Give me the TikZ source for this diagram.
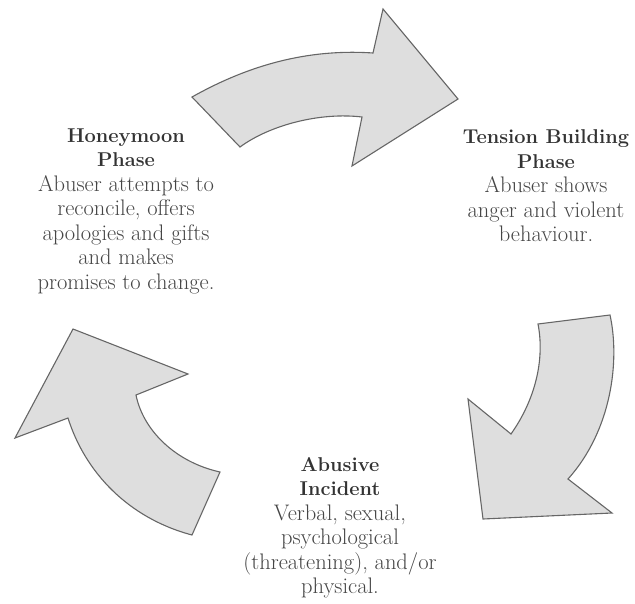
\documentclass[tikz,border=0pt]{standalone}
\usepackage{xcolor}
\usepackage{tikz}
\usetikzlibrary{positioning}

\definecolor{arrowfill}{HTML}{DEDEDE}
\definecolor{arrowline}{HTML}{666666}
\definecolor{titletext}{HTML}{333333}
\definecolor{bodytext}{HTML}{454545}

\newcommand{\phasetitle}[1]{{\color{titletext}\fontsize{20}{24.5}\selectfont\bfseries #1}}

\begin{document}
\begin{tikzpicture}[x=1pt, y=-1pt,
        phase/.style={align=center, inner sep=0pt, text=bodytext, font=\fontsize{22.5}{24.5}\selectfont},
        cyclearrow/.style={draw=arrowline, fill=arrowfill, line width=1.1pt, line join=miter}]
        \useasboundingbox (0,0) rectangle (635,603);

        % Arrows of the cycle
        \draw[cyclearrow] (192,97) .. controls (240,70) and (300,48) .. (373,53) -- (383,9) -- (458,99) -- (352,166) -- (362,117)
            .. controls (320,112) and (270,125) .. (240,147) -- cycle;
        \draw[cyclearrow] (538,324) -- (610,315) .. controls (620,360) and (612,430) .. (568,479) -- (612,513) -- (483,519) -- (468,399) -- (511,434)
            .. controls (535,400) and (545,360) .. (538,324) -- cycle;
        \draw[cyclearrow] (73,329) -- (188,374) -- (136,395) .. controls (143,430) and (175,462) .. (220,472) -- (192,535)
            .. controls (128,518) and (85,472) .. (68,418) -- (15,438) -- cycle;

        % Phases
        \node[phase] (honey) at (126,211) {\phasetitle{Honeymoon}\\\phasetitle{Phase}\\Abuser attempts to\\reconcile, offers\\apologies and gifts\\and makes\\promises to change.};
        \node[phase] (tension) at (546,186) {\phasetitle{Tension Building}\\\phasetitle{Phase}\\Abuser shows\\anger and violent\\behaviour.};
        \node[phase] (abuse) at (340,528) {\phasetitle{Abusive}\\\phasetitle{Incident}\\Verbal, sexual,\\psychological\\(threatening), and/or\\physical.};
    \end{tikzpicture}
\end{document}
